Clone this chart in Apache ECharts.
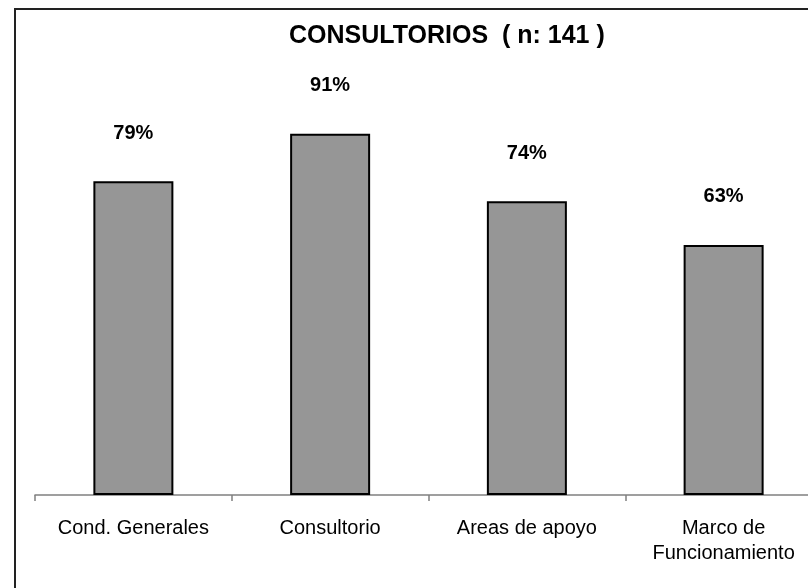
<!DOCTYPE html>
<html>
<head>
<meta charset="utf-8">
<script src="https://cdn.jsdelivr.net/npm/echarts@6/dist/echarts.min.js"></script>
<style>
html,body{margin:0;padding:0;background:#fff;overflow:hidden;width:808px;height:588px;}
#c{width:840px;height:588px;}
</style>
</head>
<body>
<div id="c"></div>
<script>
var categories = ['Cond. Generales', 'Consultorio', 'Areas de apoyo', 'Marco de\nFuncionamiento'];
var values = [79, 91, 74, 63];
var titleText = 'CONSULTORIOS  ( n: 141 )';

var chart = echarts.init(document.getElementById('c'), null, {renderer: 'canvas'});
var font = 'Arial, "Liberation Sans", sans-serif';
chart.setOption({
  animation: false,
  backgroundColor: '#ffffff',
  title: {
    text: titleText,
    left: 289,
    top: 24,
    padding: 0,
    textStyle: {fontFamily: font, fontSize: 25, fontWeight: 'bold', color: '#000'}
  },
  grid: {left: 35, right: 18, top: 98, bottom: 93, containLabel: false},
  xAxis: {
    type: 'category',
    data: categories,
    axisLine: {lineStyle: {color: '#808080', width: 1.5}},
    axisTick: {show: true, length: 6, lineStyle: {color: '#808080', width: 1.5}},
    axisLabel: {fontFamily: font, fontSize: 20, color: '#000', margin: 21, lineHeight: 25, interval: 0}
  },
  yAxis: {
    type: 'value', min: 0, max: 100, show: false,
    splitLine: {show: false}
  },
  series: [{
    type: 'bar',
    data: values,
    barWidth: 80,
    itemStyle: {color: '#969696', borderColor: '#000', borderWidth: 2},
    label: {
      show: true, position: 'top', distance: 38,
      formatter: '{c}%',
      fontFamily: font, fontSize: 20, fontWeight: 'bold', color: '#000'
    }
  }],
  graphic: [{
    type: 'rect',
    shape: {x: 15, y: 9, width: 900, height: 700},
    style: {fill: 'none', stroke: '#222', lineWidth: 2},
    silent: true,
    z: 100
  }]
});
</script>
</body>
</html>
